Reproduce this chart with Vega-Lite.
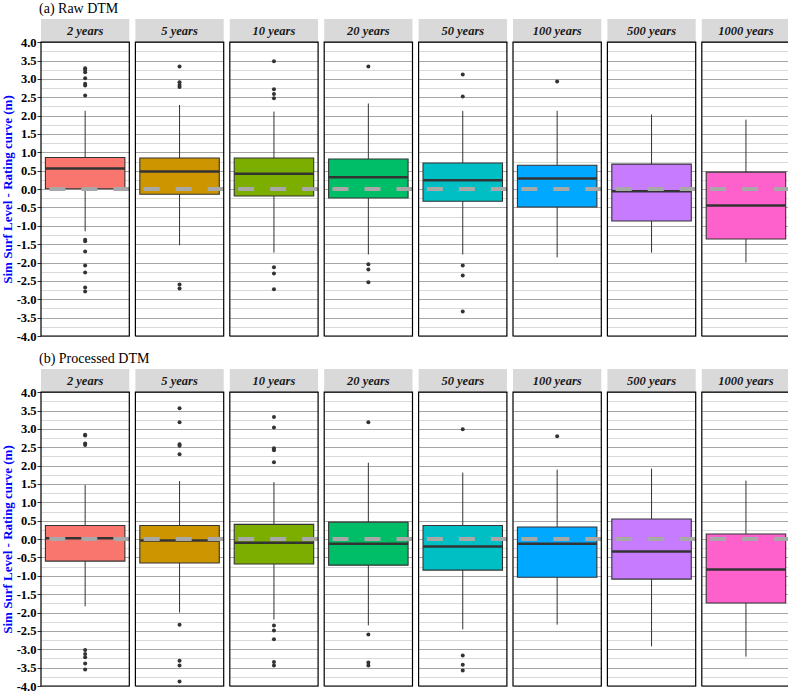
{
  "$schema": "https://vega.github.io/schema/vega-lite/v6.json",
  "padding": {"left": 1, "top": 2, "right": 0, "bottom": 0},
  "background": "white",
  "datasets": {
    "stats": [
      {"dtm": "Raw", "period": "2 years", "kind": "box", "lower": -1.15, "q1": 0.01, "median": 0.56, "q3": 0.86, "upper": 2.13},
      {"dtm": "Raw", "period": "5 years", "kind": "box", "lower": -1.53, "q1": -0.14, "median": 0.48, "q3": 0.845, "upper": 2.29},
      {"dtm": "Raw", "period": "10 years", "kind": "box", "lower": -1.73, "q1": -0.19, "median": 0.42, "q3": 0.845, "upper": 2.11},
      {"dtm": "Raw", "period": "20 years", "kind": "box", "lower": -1.78, "q1": -0.245, "median": 0.32, "q3": 0.82, "upper": 2.33},
      {"dtm": "Raw", "period": "50 years", "kind": "box", "lower": -1.78, "q1": -0.33, "median": 0.24, "q3": 0.71, "upper": 2.13},
      {"dtm": "Raw", "period": "100 years", "kind": "box", "lower": -1.86, "q1": -0.49, "median": 0.29, "q3": 0.65, "upper": 2.13},
      {"dtm": "Raw", "period": "500 years", "kind": "box", "lower": -1.73, "q1": -0.87, "median": -0.06, "q3": 0.68, "upper": 2.03},
      {"dtm": "Raw", "period": "1000 years", "kind": "box", "lower": -2.0, "q1": -1.36, "median": -0.445, "q3": 0.46, "upper": 1.89},
      {"dtm": "Raw", "period": "2 years", "kind": "outlier", "value": 3.29},
      {"dtm": "Raw", "period": "2 years", "kind": "outlier", "value": 3.24},
      {"dtm": "Raw", "period": "2 years", "kind": "outlier", "value": 3.18},
      {"dtm": "Raw", "period": "2 years", "kind": "outlier", "value": 3.02},
      {"dtm": "Raw", "period": "2 years", "kind": "outlier", "value": 2.87},
      {"dtm": "Raw", "period": "2 years", "kind": "outlier", "value": 2.82},
      {"dtm": "Raw", "period": "2 years", "kind": "outlier", "value": 2.55},
      {"dtm": "Raw", "period": "2 years", "kind": "outlier", "value": -1.38},
      {"dtm": "Raw", "period": "2 years", "kind": "outlier", "value": -1.42},
      {"dtm": "Raw", "period": "2 years", "kind": "outlier", "value": -1.7},
      {"dtm": "Raw", "period": "2 years", "kind": "outlier", "value": -2.08},
      {"dtm": "Raw", "period": "2 years", "kind": "outlier", "value": -2.27},
      {"dtm": "Raw", "period": "2 years", "kind": "outlier", "value": -2.68},
      {"dtm": "Raw", "period": "2 years", "kind": "outlier", "value": -2.79},
      {"dtm": "Raw", "period": "5 years", "kind": "outlier", "value": 3.34},
      {"dtm": "Raw", "period": "5 years", "kind": "outlier", "value": 2.91},
      {"dtm": "Raw", "period": "5 years", "kind": "outlier", "value": 2.83},
      {"dtm": "Raw", "period": "5 years", "kind": "outlier", "value": 2.78},
      {"dtm": "Raw", "period": "5 years", "kind": "outlier", "value": -2.6},
      {"dtm": "Raw", "period": "5 years", "kind": "outlier", "value": -2.71},
      {"dtm": "Raw", "period": "10 years", "kind": "outlier", "value": 3.48},
      {"dtm": "Raw", "period": "10 years", "kind": "outlier", "value": 2.72},
      {"dtm": "Raw", "period": "10 years", "kind": "outlier", "value": 2.59},
      {"dtm": "Raw", "period": "10 years", "kind": "outlier", "value": 2.47},
      {"dtm": "Raw", "period": "10 years", "kind": "outlier", "value": -2.13},
      {"dtm": "Raw", "period": "10 years", "kind": "outlier", "value": -2.3},
      {"dtm": "Raw", "period": "10 years", "kind": "outlier", "value": -2.73},
      {"dtm": "Raw", "period": "20 years", "kind": "outlier", "value": 3.34},
      {"dtm": "Raw", "period": "20 years", "kind": "outlier", "value": -2.05},
      {"dtm": "Raw", "period": "20 years", "kind": "outlier", "value": -2.19},
      {"dtm": "Raw", "period": "20 years", "kind": "outlier", "value": -2.54},
      {"dtm": "Raw", "period": "50 years", "kind": "outlier", "value": 3.12},
      {"dtm": "Raw", "period": "50 years", "kind": "outlier", "value": 2.52},
      {"dtm": "Raw", "period": "50 years", "kind": "outlier", "value": -2.08},
      {"dtm": "Raw", "period": "50 years", "kind": "outlier", "value": -2.35},
      {"dtm": "Raw", "period": "50 years", "kind": "outlier", "value": -3.33},
      {"dtm": "Raw", "period": "100 years", "kind": "outlier", "value": 2.93},
      {"dtm": "Processed", "period": "2 years", "kind": "box", "lower": -1.83, "q1": -0.6, "median": 0.02, "q3": 0.37, "upper": 1.47},
      {"dtm": "Processed", "period": "5 years", "kind": "box", "lower": -2.0, "q1": -0.65, "median": -0.04, "q3": 0.37, "upper": 1.58},
      {"dtm": "Processed", "period": "10 years", "kind": "box", "lower": -2.19, "q1": -0.68, "median": -0.1, "q3": 0.4, "upper": 1.55},
      {"dtm": "Processed", "period": "20 years", "kind": "box", "lower": -2.35, "q1": -0.71, "median": -0.13, "q3": 0.46, "upper": 2.08},
      {"dtm": "Processed", "period": "50 years", "kind": "box", "lower": -2.46, "q1": -0.845, "median": -0.2, "q3": 0.37, "upper": 1.81},
      {"dtm": "Processed", "period": "100 years", "kind": "box", "lower": -2.33, "q1": -1.04, "median": -0.13, "q3": 0.33, "upper": 1.89},
      {"dtm": "Processed", "period": "500 years", "kind": "box", "lower": -2.92, "q1": -1.09, "median": -0.34, "q3": 0.545, "upper": 1.92},
      {"dtm": "Processed", "period": "1000 years", "kind": "box", "lower": -3.2, "q1": -1.74, "median": -0.83, "q3": 0.14, "upper": 1.59},
      {"dtm": "Processed", "period": "2 years", "kind": "outlier", "value": 2.84},
      {"dtm": "Processed", "period": "2 years", "kind": "outlier", "value": 2.82},
      {"dtm": "Processed", "period": "2 years", "kind": "outlier", "value": 2.6},
      {"dtm": "Processed", "period": "2 years", "kind": "outlier", "value": 2.56},
      {"dtm": "Processed", "period": "2 years", "kind": "outlier", "value": -3.02},
      {"dtm": "Processed", "period": "2 years", "kind": "outlier", "value": -3.13},
      {"dtm": "Processed", "period": "2 years", "kind": "outlier", "value": -3.22},
      {"dtm": "Processed", "period": "2 years", "kind": "outlier", "value": -3.39},
      {"dtm": "Processed", "period": "2 years", "kind": "outlier", "value": -3.55},
      {"dtm": "Processed", "period": "5 years", "kind": "outlier", "value": 3.56},
      {"dtm": "Processed", "period": "5 years", "kind": "outlier", "value": 3.18},
      {"dtm": "Processed", "period": "5 years", "kind": "outlier", "value": 2.58},
      {"dtm": "Processed", "period": "5 years", "kind": "outlier", "value": 2.54},
      {"dtm": "Processed", "period": "5 years", "kind": "outlier", "value": 2.31},
      {"dtm": "Processed", "period": "5 years", "kind": "outlier", "value": -2.33},
      {"dtm": "Processed", "period": "5 years", "kind": "outlier", "value": -3.31},
      {"dtm": "Processed", "period": "5 years", "kind": "outlier", "value": -3.44},
      {"dtm": "Processed", "period": "5 years", "kind": "outlier", "value": -3.88},
      {"dtm": "Processed", "period": "10 years", "kind": "outlier", "value": 3.32},
      {"dtm": "Processed", "period": "10 years", "kind": "outlier", "value": 3.04},
      {"dtm": "Processed", "period": "10 years", "kind": "outlier", "value": 2.47},
      {"dtm": "Processed", "period": "10 years", "kind": "outlier", "value": 2.42},
      {"dtm": "Processed", "period": "10 years", "kind": "outlier", "value": 2.09},
      {"dtm": "Processed", "period": "10 years", "kind": "outlier", "value": -2.35},
      {"dtm": "Processed", "period": "10 years", "kind": "outlier", "value": -2.49},
      {"dtm": "Processed", "period": "10 years", "kind": "outlier", "value": -2.73},
      {"dtm": "Processed", "period": "10 years", "kind": "outlier", "value": -3.35},
      {"dtm": "Processed", "period": "10 years", "kind": "outlier", "value": -3.44},
      {"dtm": "Processed", "period": "20 years", "kind": "outlier", "value": 3.18},
      {"dtm": "Processed", "period": "20 years", "kind": "outlier", "value": -2.6},
      {"dtm": "Processed", "period": "20 years", "kind": "outlier", "value": -3.36},
      {"dtm": "Processed", "period": "20 years", "kind": "outlier", "value": -3.44},
      {"dtm": "Processed", "period": "50 years", "kind": "outlier", "value": 2.99},
      {"dtm": "Processed", "period": "50 years", "kind": "outlier", "value": -3.17},
      {"dtm": "Processed", "period": "50 years", "kind": "outlier", "value": -3.42},
      {"dtm": "Processed", "period": "50 years", "kind": "outlier", "value": -3.58},
      {"dtm": "Processed", "period": "100 years", "kind": "outlier", "value": 2.8}
    ]
  },
  "spacing": 9,
  "vconcat": [
    {
      "data": {"name": "stats"},
      "transform": [{"filter": "datum.dtm === 'Raw'"}],
      "facet": {"column": {"field": "period", "type": "nominal", "title": "(a) Raw DTM",
        "sort": ["2 years", "5 years", "10 years", "20 years", "50 years", "100 years", "500 years", "1000 years"],
        "header": {"labels": false, "titleAnchor": "start", "titleFont": "Liberation Serif", "titleFontSize": 14, "titleFontWeight": "normal", "titleColor": "black", "titlePadding": -21, "titleBaseline": "bottom"}}},
      "spacing": {"column": 5.4, "row": 5.4},
      "bounds": "flush",
      "resolve": {"scale": {"x": "independent"}},
      "spec": {
        "width": 88.3, "height": 317,
        "resolve": {"axis": {"y": "independent"}},
        "layer": [
          {"transform": [{"filter": "datum.kind === 'box'"}],
           "mark": {"type": "rule", "color": "#333333", "strokeWidth": 1},
           "encoding": {
             "x": {"field": "period", "type": "nominal", "axis": null, "scale": {"paddingInner": 0.1, "paddingOuter": 0.05}},
             "y": {"field": "lower", "type": "quantitative", "scale": {"domain": [-4, 4.63], "nice": false, "zero": false},
               "axis": {"orient": "left", "title": null, "values": [-3.75, -3.25, -2.75, -2.25, -1.75, -1.25, -0.75, -0.25, 0.25, 0.75, 1.25, 1.75, 2.25, 2.75, 3.25, 3.75],
                 "grid": true, "gridColor": "#d9d9d9", "gridWidth": 1, "labels": false, "ticks": false, "domain": false}},
             "y2": {"field": "upper"}
           }},
          {"transform": [{"filter": "datum.kind === 'box'"}],
           "mark": {"type": "rect", "fill": "#d9d9d9"},
           "encoding": {
             "y": {"datum": 4.0, "type": "quantitative", "axis": null, "scale": {"domain": [-4, 4.63], "nice": false, "zero": false}},
             "y2": {"datum": 4.63}
           }},
          {"transform": [{"filter": "datum.kind === 'box'"}],
           "mark": {"type": "bar", "stroke": "#333333", "strokeWidth": 1.1},
           "encoding": {
             "x": {"field": "period", "type": "nominal", "axis": null, "scale": {"paddingInner": 0.1, "paddingOuter": 0.05}},
             "y": {"field": "q1", "type": "quantitative", "title": "Sim Surf Level - Rating curve (m)", "scale": {"domain": [-4, 4.63], "nice": false, "zero": false},
               "axis": {"orient": "left", "values": [-4, -3.5, -3, -2.5, -2, -1.5, -1, -0.5, 0, 0.5, 1, 1.5, 2, 2.5, 3, 3.5, 4],
                 "grid": true, "gridColor": "#a6a6a6", "gridWidth": 1,
                 "labelExpr": "(datum.value < 0 ? '-' : '') + format(abs(datum.value), '.1f')",
                 "labelOverlap": false, "labelFont": "Liberation Serif", "labelFontWeight": "bold", "labelFontSize": 12.5, "labelColor": "black", "labelPadding": 1,
                 "ticks": true, "tickSize": 4, "tickWidth": 1, "tickColor": "#333333", "domain": false,
                 "titleFont": "Liberation Serif", "titleFontSize": 13, "titleFontWeight": "bold", "titleColor": "#0000ff", "titlePadding": 2, "titleY": 170}},
             "y2": {"field": "q3"},
             "fill": {"field": "period", "type": "nominal", "legend": null,
               "scale": {"domain": ["2 years", "5 years", "10 years", "20 years", "50 years", "100 years", "500 years", "1000 years"],
                 "range": ["#F8766D", "#CD9600", "#7CAE00", "#00BE67", "#00BFC4", "#00A9FF", "#C77CFF", "#FF61CC"]}}
           }},
          {"transform": [{"filter": "datum.kind === 'box'"}],
           "mark": {"type": "tick", "color": "#333333", "thickness": 2.5, "size": 79.5, "opacity": 1},
           "encoding": {
             "x": {"field": "period", "type": "nominal", "axis": null, "scale": {"paddingInner": 0.1, "paddingOuter": 0.05}},
             "y": {"field": "median", "type": "quantitative", "axis": null, "scale": {"domain": [-4, 4.63], "nice": false, "zero": false}}
           }},
          {"transform": [{"filter": "datum.kind === 'outlier'"}],
           "mark": {"type": "point", "filled": true, "color": "#333333", "size": 16, "opacity": 1},
           "encoding": {
             "x": {"field": "period", "type": "nominal", "axis": null, "scale": {"paddingInner": 0.1, "paddingOuter": 0.05}},
             "y": {"field": "value", "type": "quantitative", "axis": null, "scale": {"domain": [-4, 4.63], "nice": false, "zero": false}}
           }},
          {"transform": [{"filter": "datum.kind === 'box'"}],
           "mark": {"type": "rule", "color": "#a8a8a8", "strokeWidth": 4, "strokeDash": [16, 16]},
           "encoding": {"y": {"datum": 0, "type": "quantitative", "axis": null, "scale": {"domain": [-4, 4.63], "nice": false, "zero": false}}}},
          {"transform": [{"filter": "datum.kind === 'box'"}],
           "mark": {"type": "rect", "fill": null, "fillOpacity": 0, "stroke": "black", "strokeWidth": 1.2},
           "encoding": {"y": {"datum": -4, "type": "quantitative", "axis": null, "scale": {"domain": [-4, 4.63], "nice": false, "zero": false}}, "y2": {"datum": 4}}},
          {"transform": [{"filter": "datum.kind === 'box'"}],
           "mark": {"type": "text", "font": "Liberation Serif", "fontStyle": "italic", "fontWeight": "bold", "fontSize": 12.5, "color": "#1a1a1a", "baseline": "middle"},
           "encoding": {
             "x": {"field": "period", "type": "nominal", "axis": null, "scale": {"paddingInner": 0.1, "paddingOuter": 0.05}},
             "y": {"datum": 4.315, "type": "quantitative", "axis": null, "scale": {"domain": [-4, 4.63], "nice": false, "zero": false}},
             "text": {"field": "period"}
           }}
        ]
      }
    },
    {
      "data": {"name": "stats"},
      "transform": [{"filter": "datum.dtm === 'Processed'"}],
      "facet": {"column": {"field": "period", "type": "nominal", "title": "(b) Processed DTM",
        "sort": ["2 years", "5 years", "10 years", "20 years", "50 years", "100 years", "500 years", "1000 years"],
        "header": {"labels": false, "titleAnchor": "start", "titleFont": "Liberation Serif", "titleFontSize": 14, "titleFontWeight": "normal", "titleColor": "black", "titlePadding": -21, "titleBaseline": "bottom"}}},
      "spacing": {"column": 5.4, "row": 5.4},
      "bounds": "flush",
      "resolve": {"scale": {"x": "independent"}},
      "spec": {
        "width": 88.3, "height": 317,
        "resolve": {"axis": {"y": "independent"}},
        "layer": [
          {"transform": [{"filter": "datum.kind === 'box'"}],
           "mark": {"type": "rule", "color": "#333333", "strokeWidth": 1},
           "encoding": {
             "x": {"field": "period", "type": "nominal", "axis": null, "scale": {"paddingInner": 0.1, "paddingOuter": 0.05}},
             "y": {"field": "lower", "type": "quantitative", "scale": {"domain": [-4, 4.63], "nice": false, "zero": false},
               "axis": {"orient": "left", "title": null, "values": [-3.75, -3.25, -2.75, -2.25, -1.75, -1.25, -0.75, -0.25, 0.25, 0.75, 1.25, 1.75, 2.25, 2.75, 3.25, 3.75],
                 "grid": true, "gridColor": "#d9d9d9", "gridWidth": 1, "labels": false, "ticks": false, "domain": false}},
             "y2": {"field": "upper"}
           }},
          {"transform": [{"filter": "datum.kind === 'box'"}],
           "mark": {"type": "rect", "fill": "#d9d9d9"},
           "encoding": {
             "y": {"datum": 4.0, "type": "quantitative", "axis": null, "scale": {"domain": [-4, 4.63], "nice": false, "zero": false}},
             "y2": {"datum": 4.63}
           }},
          {"transform": [{"filter": "datum.kind === 'box'"}],
           "mark": {"type": "bar", "stroke": "#333333", "strokeWidth": 1.1},
           "encoding": {
             "x": {"field": "period", "type": "nominal", "axis": null, "scale": {"paddingInner": 0.1, "paddingOuter": 0.05}},
             "y": {"field": "q1", "type": "quantitative", "title": "Sim Surf Level - Rating curve (m)", "scale": {"domain": [-4, 4.63], "nice": false, "zero": false},
               "axis": {"orient": "left", "values": [-4, -3.5, -3, -2.5, -2, -1.5, -1, -0.5, 0, 0.5, 1, 1.5, 2, 2.5, 3, 3.5, 4],
                 "grid": true, "gridColor": "#a6a6a6", "gridWidth": 1,
                 "labelExpr": "(datum.value < 0 ? '-' : '') + format(abs(datum.value), '.1f')",
                 "labelOverlap": false, "labelFont": "Liberation Serif", "labelFontWeight": "bold", "labelFontSize": 12.5, "labelColor": "black", "labelPadding": 1,
                 "ticks": true, "tickSize": 4, "tickWidth": 1, "tickColor": "#333333", "domain": false,
                 "titleFont": "Liberation Serif", "titleFontSize": 13, "titleFontWeight": "bold", "titleColor": "#0000ff", "titlePadding": 2, "titleY": 170}},
             "y2": {"field": "q3"},
             "fill": {"field": "period", "type": "nominal", "legend": null,
               "scale": {"domain": ["2 years", "5 years", "10 years", "20 years", "50 years", "100 years", "500 years", "1000 years"],
                 "range": ["#F8766D", "#CD9600", "#7CAE00", "#00BE67", "#00BFC4", "#00A9FF", "#C77CFF", "#FF61CC"]}}
           }},
          {"transform": [{"filter": "datum.kind === 'box'"}],
           "mark": {"type": "tick", "color": "#333333", "thickness": 2.5, "size": 79.5, "opacity": 1},
           "encoding": {
             "x": {"field": "period", "type": "nominal", "axis": null, "scale": {"paddingInner": 0.1, "paddingOuter": 0.05}},
             "y": {"field": "median", "type": "quantitative", "axis": null, "scale": {"domain": [-4, 4.63], "nice": false, "zero": false}}
           }},
          {"transform": [{"filter": "datum.kind === 'outlier'"}],
           "mark": {"type": "point", "filled": true, "color": "#333333", "size": 16, "opacity": 1},
           "encoding": {
             "x": {"field": "period", "type": "nominal", "axis": null, "scale": {"paddingInner": 0.1, "paddingOuter": 0.05}},
             "y": {"field": "value", "type": "quantitative", "axis": null, "scale": {"domain": [-4, 4.63], "nice": false, "zero": false}}
           }},
          {"transform": [{"filter": "datum.kind === 'box'"}],
           "mark": {"type": "rule", "color": "#a8a8a8", "strokeWidth": 4, "strokeDash": [16, 16]},
           "encoding": {"y": {"datum": 0, "type": "quantitative", "axis": null, "scale": {"domain": [-4, 4.63], "nice": false, "zero": false}}}},
          {"transform": [{"filter": "datum.kind === 'box'"}],
           "mark": {"type": "rect", "fill": null, "fillOpacity": 0, "stroke": "black", "strokeWidth": 1.2},
           "encoding": {"y": {"datum": -4, "type": "quantitative", "axis": null, "scale": {"domain": [-4, 4.63], "nice": false, "zero": false}}, "y2": {"datum": 4}}},
          {"transform": [{"filter": "datum.kind === 'box'"}],
           "mark": {"type": "text", "font": "Liberation Serif", "fontStyle": "italic", "fontWeight": "bold", "fontSize": 12.5, "color": "#1a1a1a", "baseline": "middle"},
           "encoding": {
             "x": {"field": "period", "type": "nominal", "axis": null, "scale": {"paddingInner": 0.1, "paddingOuter": 0.05}},
             "y": {"datum": 4.315, "type": "quantitative", "axis": null, "scale": {"domain": [-4, 4.63], "nice": false, "zero": false}},
             "text": {"field": "period"}
           }}
        ]
      }
    }
  ],
  "config": {
    "view": {"stroke": null},
    "font": "Liberation Serif",
    "facet": {"spacing": 5.4},
    "header": {"labelPadding": 0},
    "axis": {"labelFont": "Liberation Serif", "titleFont": "Liberation Serif"}
  }
}
